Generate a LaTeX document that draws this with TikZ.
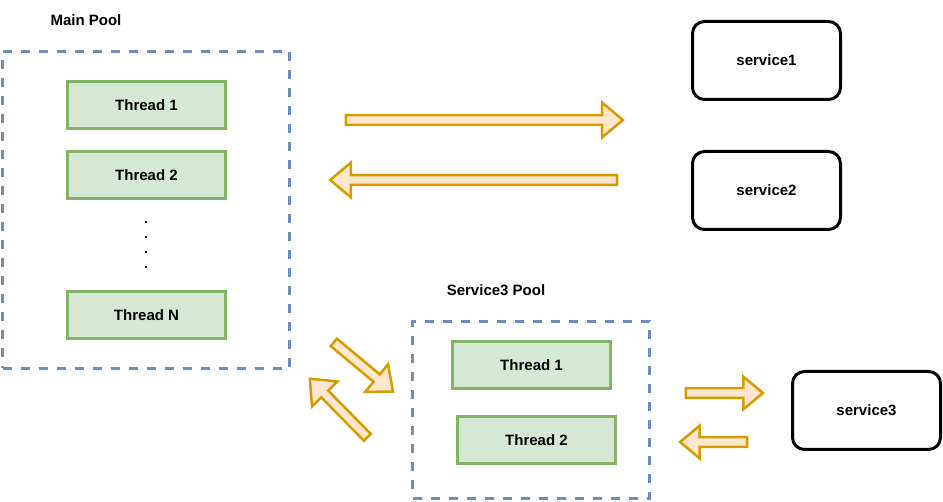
\documentclass[tikz,border=0pt]{standalone}
\usepackage{fontspec}
\setmainfont{Liberation Sans}
\usetikzlibrary{shapes.arrows}
\definecolor{poolline}{HTML}{6C8EBF}
\definecolor{thrfill}{HTML}{D5E8D4}
\definecolor{thrline}{HTML}{82B366}
\definecolor{arrfill}{HTML}{FFE6CC}
\definecolor{arrline}{HTML}{D79B00}
\tikzset{>=stealth,
  every node/.style={font=\fontsize{15}{18}\selectfont\bfseries},
  pool/.style={draw=poolline, line width=3pt, dash pattern=on 9pt off 9pt},
  thread/.style={draw=thrline, fill=thrfill, line width=3pt, minimum width=158pt, minimum height=47pt},
  service/.style={draw, line width=3pt, rounded corners=12pt, minimum width=148pt, minimum height=78pt},
  fatarrow/.style={single arrow, draw=arrline, fill=arrfill, line width=2.5pt, inner sep=3.6pt,
    single arrow tip angle=80, single arrow head extend=12.5pt}
}
\begin{document}
\begin{tikzpicture}[x=1pt, y=1pt]
    \useasboundingbox (0,0) rectangle (943,-502);
    % main pool
    \node (mainlbl) at (86,-20) {Main Pool};
    \node[pool, minimum width=287pt, minimum height=317pt] (mainpool) at (146,-210) {};
    \node[thread] (mt1) at (146.5,-105) {Thread 1};
    \node[thread] (mt2) at (146.5,-175) {Thread 2};
    \node[thread] (mtn) at (146.5,-315) {Thread N};
    \foreach \y in {222,237,252,267}
        \fill (144.6,-\y+1.4) rectangle ++(2.8,-2.8);
    % services
    \node[service] (svc1) at (766.5,-60.5) {service1};
    \node[service] (svc2) at (766.5,-190.5) {service2};
    \node[service] (svc3) at (866.5,-410.5) {service3};
    % service3 pool
    \node (s3lbl) at (496,-290) {Service3 Pool};
    \node[pool, minimum width=237pt, minimum height=177pt] (s3pool) at (531,-410) {};
    \node[thread] (st1) at (531.5,-365) {Thread 1};
    \node[thread] (st2) at (536.5,-440) {Thread 2};
    % block arrows
    \node[fatarrow, minimum height=277pt] (req) at (481.5,-120) {};
    \node[fatarrow, minimum height=287pt, rotate=180] (resp) at (476.5,-180) {};
    \node[fatarrow, minimum height=77pt, single arrow head extend=11.5pt] (req3) at (721.5,-393) {};
    \node[fatarrow, minimum height=67pt, single arrow head extend=11.5pt, rotate=180] (resp3) at (716.5,-442) {};
    \node[fatarrow, minimum height=77pt, single arrow head extend=13pt, rotate=-39.8] (tos3) at (361.2,-365.2) {};
    \node[fatarrow, minimum height=82pt, single arrow head extend=13pt, rotate=134.5] (froms3) at (340.6,-410.1) {};
\end{tikzpicture}
\end{document}
